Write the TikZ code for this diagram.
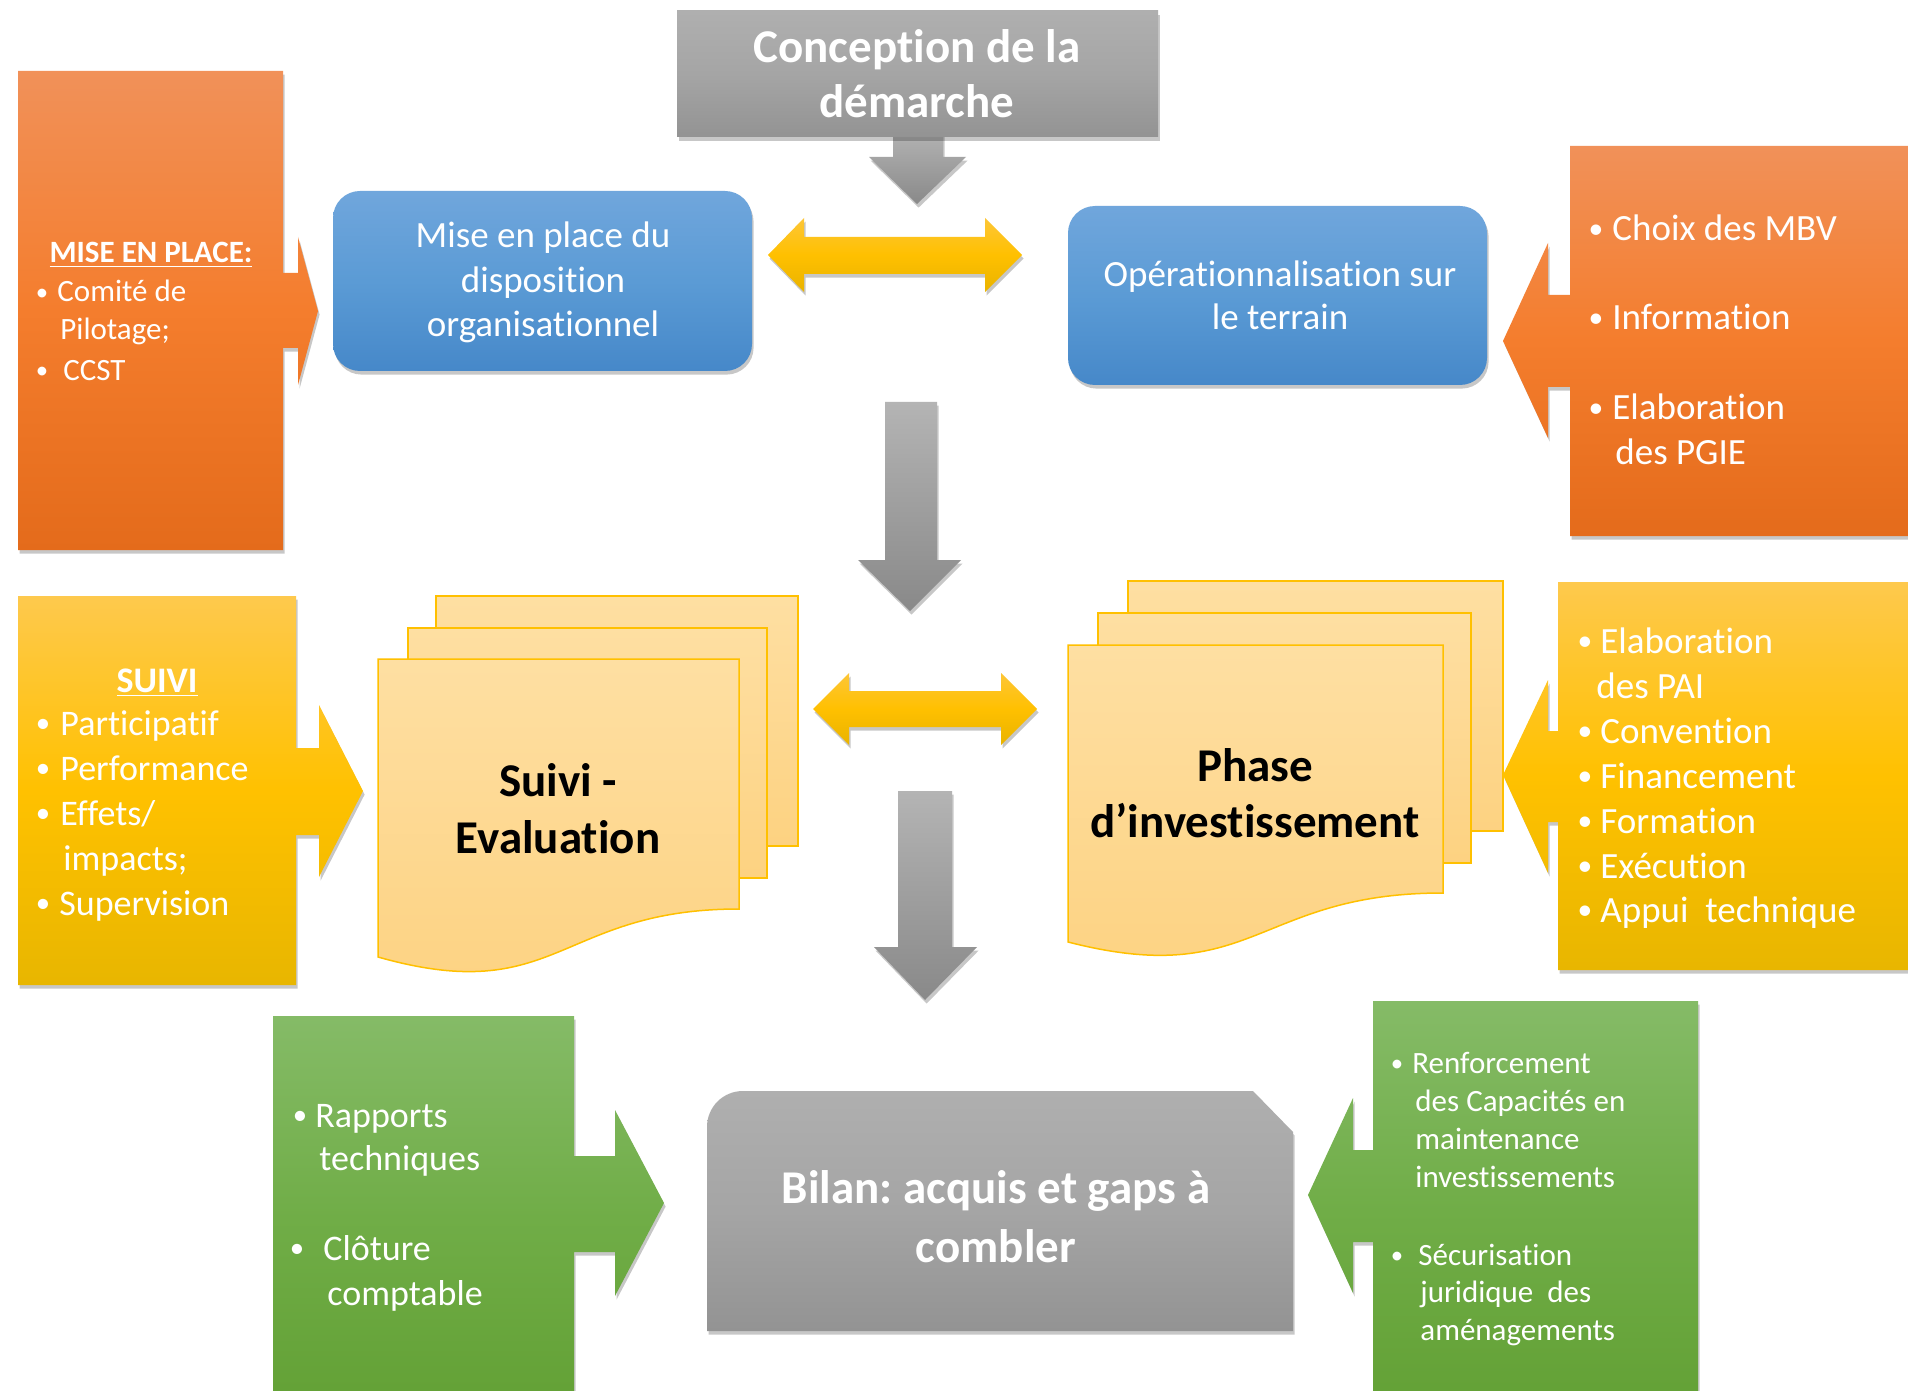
\documentclass[tikz,border=0pt]{standalone}
\usepackage{fontspec}
\setmainfont{Carlito}[Ligatures=CommonOff]
\frenchspacing
\usetikzlibrary{shadows}
\definecolor{orA}{HTML}{F19159}\definecolor{orB}{HTML}{F47D2D}\definecolor{orC}{HTML}{E46B1B}
\definecolor{yeA}{HTML}{FEC94D}\definecolor{yeB}{HTML}{FFC100}\definecolor{yeC}{HTML}{E8B600}
\definecolor{grA}{HTML}{85BB67}\definecolor{grB}{HTML}{70AD47}\definecolor{grC}{HTML}{62A034}
\definecolor{blA}{HTML}{70A6DC}\definecolor{blB}{HTML}{5B9BD5}\definecolor{blC}{HTML}{4688C9}
\definecolor{gyA}{HTML}{AFAFAF}\definecolor{gyB}{HTML}{A5A5A5}\definecolor{gyC}{HTML}{939393}
\definecolor{gaA}{HTML}{B4B4B4}\definecolor{gaC}{HTML}{898989}
\definecolor{daA}{HTML}{FDC637}\definecolor{daB}{HTML}{FFC000}\definecolor{daC}{HTML}{E9B300}
\definecolor{docA}{HTML}{FEDFA2}\definecolor{docC}{HTML}{FDD281}\definecolor{docL}{HTML}{FFC000}
\newcommand\bulletmark{\raisebox{0.06em}{\scalebox{0.8}{•}}}
\begin{document}
\begin{tikzpicture}[x=0.5pt,y=-0.5pt,
  shd/.style={drop shadow={shadow xshift=0.8pt,shadow yshift=-1.8pt,opacity=0.22,fill=black}},
  orfill/.style={shd,top color=orA,bottom color=orC,middle color=orB},
  yefill/.style={shd,top color=yeA,bottom color=yeC,middle color=yeB},
  grfill/.style={shd,top color=grA,bottom color=grC,middle color=grB},
  blfill/.style={shd,top color=blA,bottom color=blC,middle color=blB},
  gyfill/.style={shd,top color=gyA,bottom color=gyC,middle color=gyB},
  garrow/.style={shd,top color=gaA,bottom color=gaC},
  darrow/.style={shd,top color=daA,bottom color=daC,middle color=daB},
  docpage/.style={top color=docA,bottom color=docC,draw=docL,line width=0.75pt},
  txt/.style={inner sep=0pt,anchor=base west,text=white},
  ctxt/.style={inner sep=0pt,anchor=base,text=white},
  bul/.style={inner sep=0pt,anchor=base,text=white},
  ttl/.style={inner sep=0pt,anchor=base,font=\fontsize{23.5}{28}\selectfont\bfseries},
  fA/.style={font=\fontsize{18.5}{22}\selectfont},
  fB/.style={font=\fontsize{18}{22}\selectfont},
  fC/.style={font=\fontsize{15.5}{19}\selectfont}]
\clip (0,0) rectangle (1908,1391);
\fill[white] (0,0) rectangle (1908,1391);

% ---------- top gray box with arrow
\path[garrow] (893,130) -- (943,130) -- (943,157) -- (966,157) -- (917,204) -- (869,157) -- (893,157) -- cycle;
\path[gyfill] (677,11) rectangle (1158,137);
\node[ttl,text=white] (c1) at (917,63) {Conception de la};
\node[ttl,text=white] (c2) at (917,118) {démarche};

% ---------- blue boxes
\path[blfill,rounded corners=13.5pt] (333,191) rectangle (752,371);
\path[blfill,rounded corners=13.5pt] (1068,206) rectangle (1487,385);
\node[ctxt,fA] (b11) at (543,248) {Mise en place du};
\node[ctxt,fA] (b12) at (543,293) {disposition};
\node[ctxt,fA] (b13) at (543,337) {organisationnel};
\node[ctxt,fA] (b21) at (1280,287) {Opérationnalisation sur};
\node[ctxt,fA] (b22) at (1280,330) {le terrain};

% ---------- double arrows
\path[darrow] (768,255) -- (804,218) -- (804,237) -- (985,237) -- (985,218) -- (1022,255) -- (985,292) -- (985,274) -- (804,274) -- (804,292) -- cycle;
\path[darrow] (813,709) -- (849,673) -- (849,691) -- (1001,691) -- (1001,673) -- (1037,709) -- (1001,745) -- (1001,727) -- (849,727) -- (849,745) -- cycle;

% ---------- gray down arrows
\path[garrow] (885,402) -- (937,402) -- (937,560) -- (961,560) -- (910,611) -- (858,560) -- (885,560) -- cycle;
\path[garrow] (898,791) -- (952,791) -- (952,947) -- (977,947) -- (925,1000) -- (874,947) -- (898,947) -- cycle;

% ---------- left orange callout
\path[orfill] (18,71) -- (283,71) -- (283,273) -- (298,273) -- (298,237) -- (318,311) -- (298,385) -- (298,348) -- (283,348) -- (283,550) -- (18,550) -- cycle;
\node[ctxt,font=\fontsize{15.5}{19}\selectfont\bfseries] (mp) at (151,263) {\underline{MISE EN PLACE:}};
\node[bul,fC] (mpb1) at (42,302) {\bulletmark};
\node[txt,fC] (mp1) at (57,302) {Comité de};
\node[txt,fC] (mp2) at (60,340) {Pilotage;};
\node[bul,fC] (mpb2) at (42,380) {\bulletmark};
\node[txt,fC] (mp3) at (63,380) {CCST};

% ---------- right orange callout
\path[orfill] (1570,146) -- (1930,146) -- (1930,536) -- (1570,536) -- (1570,387) -- (1548,387) -- (1548,438) -- (1503,341) -- (1548,243) -- (1548,295) -- (1570,295) -- cycle;
\foreach \y [count=\i] in {241,330,420} \node[bul,fA] (rob\i) at (1596,\y) {\bulletmark};
\node[txt,fA] (ro1) at (1612,241) {Choix des MBV};
\node[txt,fA] (ro2) at (1612,330) {Information};
\node[txt,fA] (ro3) at (1612,420) {Elaboration};
\node[txt,fA] (ro4) at (1615,465) {des PGIE};

% ---------- SUIVI callout
\path[yefill] (18,596) -- (296,596) -- (296,748) -- (319,748) -- (319,705) -- (363,791) -- (319,877) -- (319,835) -- (296,835) -- (296,985) -- (18,985) -- cycle;
\node[ctxt,font=\fontsize{18}{22}\selectfont\bfseries] (sv) at (157,692) {\underline{SUIVI}};
\foreach \y [count=\i] in {735,780,825,915} \node[bul,fB] (svb\i) at (43,\y) {\bulletmark};
\node[txt,fB] (sv1) at (60,735) {Participatif};
\node[txt,fB] (sv2) at (60,780) {Performance};
\node[txt,fB] (sv3) at (60,825) {Effets/};
\node[txt,fB] (sv4) at (63,870) {impacts;};
\node[txt,fB] (sv5) at (59,915) {Supervision};

% ---------- right yellow callout
\path[yefill] (1558,582) -- (1930,582) -- (1930,970) -- (1558,970) -- (1558,822) -- (1548,822) -- (1548,873) -- (1503,775) -- (1548,680) -- (1548,731) -- (1558,731) -- cycle;
\foreach \y [count=\i] in {653,743,788,833,878,922} \node[bul,fA] (ryb\i) at (1585,\y) {\bulletmark};
\node[txt,fA] (ry1) at (1600,653) {Elaboration};
\node[txt,fA] (ry2) at (1596,698) {des PAI};
\node[txt,fA] (ry3) at (1600,743) {Convention};
\node[txt,fA] (ry4) at (1600,788) {Financement};
\node[txt,fA] (ry5) at (1600,833) {Formation};
\node[txt,fA] (ry6) at (1600,878) {Exécution};
\node[txt,fA] (ry7) at (1600,922) {Appui\ \ technique};

% ---------- multi documents
\path[docpage] (436,596) rectangle (798,846);
\path[docpage] (408,628) rectangle (767,878);
\path[docpage] (378,659) -- (739,659) -- (739,909) .. controls (558,909) and (558,1008) .. (378,957) -- cycle;
\node[ttl] (se1) at (558,796) {Suivi -};
\node[ttl] (se2) at (558,853) {Evaluation};

\path[docpage] (1128,581) rectangle (1503,831);
\path[docpage] (1098,613) rectangle (1471,863);
\path[docpage] (1068,645) -- (1443,645) -- (1443,893) .. controls (1255,893) and (1255,990) .. (1068,942) -- cycle;
\node[ttl] (ph1) at (1255,781) {Phase};
\node[ttl] (ph2) at (1255,837) {d’investissement};

% ---------- green callouts
\path[grfill] (273,1016) -- (574,1016) -- (574,1156) -- (615,1156) -- (615,1110) -- (664,1203) -- (615,1296) -- (615,1252) -- (574,1252) -- (574,1420) -- (273,1420) -- cycle;
\node[bul,fB] (glb1) at (300,1127) {\bulletmark};
\node[bul,fB] (glb2) at (297,1260) {\bulletmark};
\node[txt,fB] (gl1) at (315,1127) {Rapports};
\node[txt,fB] (gl2) at (319,1170) {techniques};
\node[txt,fB] (gl3) at (323,1260) {Clôture};
\node[txt,fB] (gl4) at (327,1305) {comptable};

\path[grfill] (1373,1001) -- (1698,1001) -- (1698,1420) -- (1373,1420) -- (1373,1242) -- (1353,1242) -- (1353,1293) -- (1308,1195) -- (1353,1098) -- (1353,1150) -- (1373,1150) -- cycle;
\foreach \y [count=\i] in {1073,1265} \node[bul,fC] (grb\i) at (1397,\y) {\bulletmark};
\node[txt,fC] (gr1) at (1412,1073) {Renforcement};
\node[txt,fC] (gr2) at (1415,1111) {des Capacités en};
\node[txt,fC] (gr3) at (1415,1149) {maintenance};
\node[txt,fC] (gr4) at (1415,1187) {investissements};
\node[txt,fC] (gr5) at (1418,1265) {Sécurisation};
\node[txt,fC] (gr6) at (1420,1302) {juridique\ \ des};
\node[txt,fC] (gr7) at (1420,1340) {aménagements};

% ---------- bilan
\path[gyfill] (707,1331) -- (707,1127) .. controls (707,1107) and (723,1091) .. (743,1091) -- (1253,1091) -- (1293,1132) -- (1293,1331) -- cycle;
\node[ttl,text=white] (bl1) at (996,1203) {Bilan: acquis et gaps à};
\node[ttl,text=white] (bl2) at (996,1262) {combler};
\end{tikzpicture}
\end{document}
